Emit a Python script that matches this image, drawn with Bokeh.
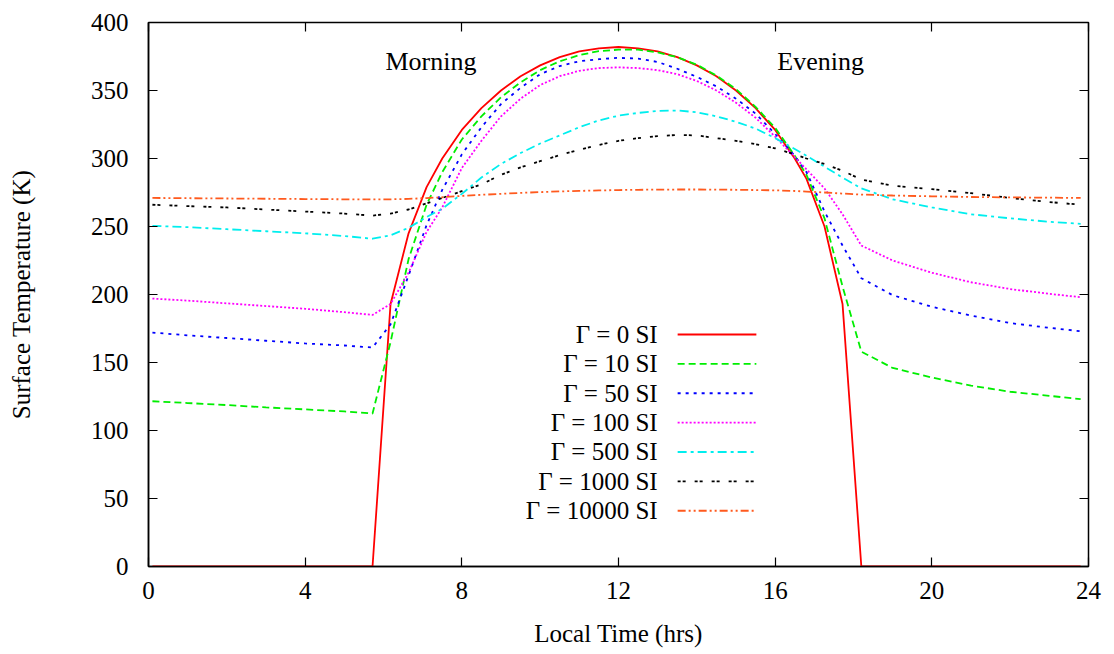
from bokeh.plotting import figure
from bokeh.models import Range1d, LinearAxis, FixedTicker
from bokeh.core.properties import value
from bokeh.embed import file_html
from bokeh.resources import INLINE

# ---------------- data ----------------
hours = [0.1, 1, 2, 3, 4, 5, 5.72, 6.18, 6.64, 7.1, 7.5, 8, 8.5, 9, 9.5, 10, 10.5, 11, 11.5, 12,
         12.5, 13, 13.5, 14, 14.5, 15, 15.5, 16, 16.5, 16.8, 17.26, 17.72, 18.2,
         19, 20, 21, 22, 23, 23.8]

t_gamma_0 = [0, 0, 0, 0, 0, 0, 0, 193, 245, 279, 300, 321, 337, 350, 360.5, 368.5, 374.5, 378.7, 381, 382,
             381, 378.7, 374.5, 368.5, 360.5, 350, 337, 321, 300, 285, 250, 193, 0,
             0, 0, 0, 0, 0, 0]
t_gamma_10 = [121.5, 120.2, 118.7, 117, 115.5, 114, 112.5, 165, 226, 266, 290, 314, 331, 345, 356, 365, 371.5, 376, 379, 380,
              380, 378, 374.5, 369, 361, 351, 338, 322.5, 302, 288, 256, 206, 158,
              146, 139, 133, 128.5, 125.5, 123]
t_gamma_50 = [172, 170, 168, 166, 164, 162.5, 161, 178, 214, 251, 277, 303, 323, 340, 352, 362, 368, 371.5, 373, 374,
              373.5, 371, 366, 360, 353, 344, 333, 318, 302, 290, 261, 236, 212,
              199.5, 191, 184.5, 179, 175.5, 173]
t_gamma_100 = [197, 195.5, 193.5, 191.5, 189.5, 187, 185, 193, 216, 246, 264, 293, 313, 331, 344, 354, 360.5, 364.5, 366.5, 367,
               366.5, 365, 362, 357, 350, 341, 330, 316, 301, 292, 278, 259, 236,
               225, 216, 209, 204, 200.5, 198]
t_gamma_500 = [250.5, 249.5, 248, 246.5, 245, 243, 241, 243.5, 249, 257, 263, 274, 286, 296, 304, 311, 317, 323, 328, 331.5,
               333.5, 335, 335.3, 334, 331, 327, 322, 315, 307, 302, 294, 286, 278,
               270, 264, 259, 256, 253.5, 252]
t_gamma_1000 = [266, 265, 264, 262.5, 261, 259.5, 258, 259.5, 262.5, 267, 271, 276, 281, 288, 293.5, 298, 302.5, 306.5, 310, 313,
                315, 316.5, 317.3, 317, 315, 313, 310.5, 307.5, 303, 300, 296, 291, 284.5,
                280, 277.5, 274.5, 271, 268, 266]
t_gamma_10000 = [271, 270.8, 270.6, 270.4, 270.2, 270, 269.9, 270, 270.3, 270.9, 271.5, 272.5, 273.3, 274, 274.7, 275.3, 275.8, 276.2, 276.5, 276.8,
                 277, 277.1, 277.2, 277.2, 277.1, 277, 276.8, 276.6, 276.1, 275.7, 275, 274.2, 273.5,
                 272.8, 272.2, 271.7, 271.4, 271.2, 271]

series_labels = ["Γ = 0 SI", "Γ = 10 SI", "Γ = 50 SI", "Γ = 100 SI",
                 "Γ = 500 SI", "Γ = 1000 SI", "Γ = 10000 SI"]
x_ticks = [0, 4, 8, 12, 16, 20, 24]
y_ticks = [0, 50, 100, 150, 200, 250, 300, 350, 400]
annotations = ["Morning", "Evening"]

# ---------------- styles ----------------
series = [t_gamma_0, t_gamma_10, t_gamma_50, t_gamma_100, t_gamma_500, t_gamma_1000, t_gamma_10000]
colors = ["#ff0000", "#00ee00", "#0000ff", "#ff00ff", "#00eeee", "#000000", "#ff5a1e"]
dashes = ["solid", "7 4", "3 5", "2 2", "9 4 3 4", "3 2 3 9", "8 3 2 3 2 3"]

FONT = "Liberation Serif"

p = figure(width=1114, height=654, output_backend="svg", toolbar_location=None,
           x_range=Range1d(0, 24), y_range=Range1d(0, 400),
           min_border_left=148, min_border_right=26, min_border_top=22, min_border_bottom=88)
p.grid.visible = False
p.outline_line_color = "black"
p.outline_line_width = 1.5
p.background_fill_color = "white"
p.border_fill_color = "white"

for ax, ticks in ((p.xaxis[0], x_ticks), (p.yaxis[0], y_ticks)):
    ax.ticker = FixedTicker(ticks=ticks)
    ax.major_tick_in = 9
    ax.major_tick_out = 0
    ax.minor_tick_line_color = None
    ax.axis_line_color = "black"
    ax.axis_line_width = 1.5
    ax.major_tick_line_width = 1.2
    ax.major_label_text_font = FONT
    ax.major_label_text_font_size = "25px"
    ax.major_label_text_color = "black"
    ax.axis_label_text_font = FONT
    ax.axis_label_text_font_size = "25px"
    ax.axis_label_text_font_style = "normal"
    ax.axis_label_text_color = "black"

p.xaxis.axis_label = "Local Time (hrs)"
p.xaxis.major_label_standoff = 15
p.xaxis.axis_label_standoff = 18
p.yaxis.axis_label = "Surface Temperature (K)"
p.yaxis.major_label_standoff = 20
p.yaxis.axis_label_standoff = 53

# mirrored tick marks on top and right (no labels)
top = LinearAxis(ticker=FixedTicker(ticks=x_ticks), major_tick_in=9, major_tick_out=0,
                 minor_tick_line_color=None, axis_line_color=None, major_tick_line_width=1.2,
                 major_label_overrides={t: "" for t in x_ticks})
right = LinearAxis(ticker=FixedTicker(ticks=y_ticks), major_tick_in=9, major_tick_out=0,
                   minor_tick_line_color=None, axis_line_color=None, major_tick_line_width=1.2,
                   major_label_overrides={t: "" for t in y_ticks})
p.add_layout(top, "above")
p.add_layout(right, "right")

for ys, col, dash in zip(series, colors, dashes):
    p.line(hours, ys, line_color=col, line_width=1.8, line_dash=dash)

# Morning / Evening annotations
p.text(x=[7.21, 17.16], y=[371, 371], text=annotations, text_font=value(FONT),
       text_font_size="26px", text_align="center", text_baseline="middle", text_color="black")

# legend: label on the left, line sample on the right
leg_text_x = 13.0
leg_x0, leg_x1 = 13.51, 15.52
leg_y_top, leg_dy = 170.6, 21.6
rows = [leg_y_top - i * leg_dy for i in range(len(series_labels))]
p.text(x=[leg_text_x] * len(rows), y=rows, text=series_labels, text_font=value(FONT),
       text_font_size="25px", text_align="right", text_baseline="middle", text_color="black")
for r, col, dash in zip(rows, colors, dashes):
    p.segment(x0=[leg_x0], y0=[r], x1=[leg_x1], y1=[r], line_color=col, line_width=1.8, line_dash=dash)

open("out.html", "w").write(file_html(p, INLINE))
